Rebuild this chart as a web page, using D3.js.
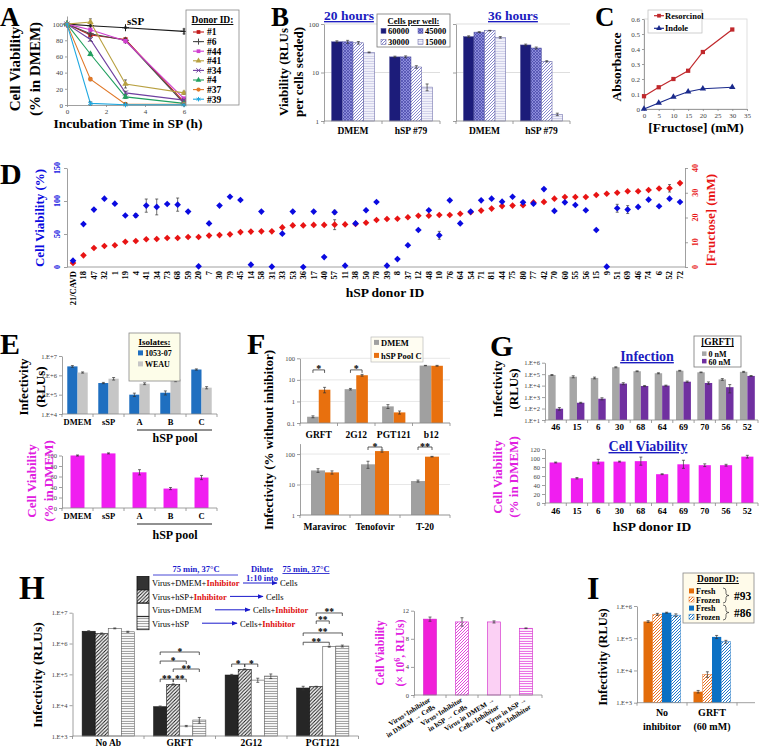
<!DOCTYPE html>
<html><head><meta charset="utf-8">
<script src="https://cdn.jsdelivr.net/npm/d3@7/dist/d3.min.js"></script>
<style>html,body{margin:0;padding:0;background:#fff}svg{display:block}</style>
</head><body>
<script>
// ================= DATA =================
// Panel A
const aTimes = [0, 1.2, 3, 6];
const aTicksX = [0, 2, 4, 6];
const aTicksY = [0, 20, 40, 60, 80, 100];
const aDonorIDs = ["#1", "#6", "#44", "#41", "#34", "#4", "#37", "#39"];
const aViab1 = [100, 86.5, 81, 4];
const aViab6 = [100, 88, 80, 2];
const aViab44 = [100, 93, 79, 8];
const aViab41 = [100, 102.5, 26, 15];
const aViab34 = [100, 81, 15, 6];
const aViab4 = [100, 63, 10, 2];
const aViab37 = [100, 32, 1, 1];
const aViab39 = [100, 2, 0.3, 0.3];
const aViabSSP = [100, 98, 95.5, 91];
const aErr = [0, 2, 2, 1];
const aErr41 = [0, 4, 5, 2];
const aErrSSP = [0, 1, 1, 3];

// Panel B
const bGroups = ["DMEM", "hSP #79"];
const bCells = ["60000", "45000", "30000", "15000"];
const bTicks = [1, 10, 100];
const bGrid = [10, 100];
const b20DMEM = [43, 43, 41, 26];
const b20DMEMErr = [2, 3, 2.5, 0.5];
const b20HSP = [21, 21, 13, 5];
const b20HSPErr = [0.7, 1, 0.8, 0.8];
const b36DMEM = [55, 68, 73, 53];
const b36DMEMErr = [2, 1.5, 1, 2];
const b36HSP = [37, 32, 17, 1.37];
const b36HSPErr = [1.5, 1.5, 0.5, 0.08];

// Panel C
const cFructose = [0, 5, 10, 15, 20, 30];
const cResorcinol = [0.085, 0.145, 0.2, 0.255, 0.38, 0.53];
const cIndole = [0, 0.04, 0.08, 0.115, 0.135, 0.145];
const cTicksX = [0, 5, 10, 15, 20, 25, 30, 35];
const cTicksY = [0, 0.1, 0.2, 0.3, 0.4, 0.5, 0.6];

// Panel D
const dDonors = ["21/CAVD","18","47","32","1","19","4","41","34","73","68","59","20","7","30","79","45","14","58","31","33","53","36","17","40","57","11","38","50","78","39","8","37","12","48","10","76","64","54","71","81","44","75","80","77","42","70","60","55","56","15","9","51","69","46","74","6","52","72"];
const dViability = [9.6,65,87,103.5,96,78,78,93,91,95.5,94.5,84,1,66,93,106.5,101.5,3.5,84,0.5,50.5,84,0,84,15,83,2,66,86,98.5,
  2,12,33,56,86,48,101,66,84,101,103.5,99,106.5,98,96,118,85,98,94,86,56,0.5,89,87,91,102,92,103.5,98.5];
const dViabErr = [1,2,2,2,2,2,3,10,12,2,10,2,1,2,2,2,2,1,2,1,2,2,1,2,2,3,1,2,2,2,
  1,1,2,2,2,6,2,2,2,2,2,2,2,2,2,2,2,2,2,2,2,1,6,6,2,2,2,2,2];
const dFructose = [1.6,4.7,7.7,8.5,8.8,10.2,10.5,11.2,11.3,11.7,11.7,12.1,12.1,12.7,12.9,13.2,14.1,14.3,14.4,14.4,16,16.8,16.8,17,17,17.1,17.2,17.4,17.9,19,
  19.4,19.5,20.1,20.7,20.7,21,21,21.5,22.1,22.8,23.6,24.6,24.8,25,26.1,26.3,27.6,28.3,28.3,28.3,29.1,29.6,30,30.6,30.6,31.1,31.7,31.8,33.9];
const dFructErr = [0.3,0.3,0.3,0.3,0.3,0.3,0.3,0.3,0.3,0.3,0.3,0.3,0.3,0.3,0.3,0.3,0.3,0.3,0.3,0.3,0.3,0.3,0.3,0.3,0.3,2,0.3,0.3,0.3,0.3,
  0.3,0.3,0.3,0.3,0.3,0.3,0.3,0.3,0.3,0.3,0.3,0.3,0.3,0.3,0.3,0.3,0.3,0.3,0.3,0.3,0.3,0.3,0.3,0.3,0.3,0.3,0.3,1.5,0.3];
const dTicksL = [0, 50, 100, 150];
const dTicksR = [0, 10, 20, 30, 40];

// Panel E
const eCats = ["DMEM", "sSP", "A", "B", "C"];
const eIsolates = ["1053-07", "WEAU"];
const e105307 = [2.9e6, 4e5, 1e5, 1.26e5, 2e6];
const e105307Err = [3e5, 3e4, 2e4, 3e4, 1.5e5];
const eWEAU = [1.4e6, 6.7e5, 3.7e5, 6.2e5, 2.3e5];
const eWEAUErr = [1e5, 1e5, 4e4, 1.5e5, 3e4];
const eLogTicks = [1e4, 1e5, 1e6, 1e7];
const eViability = [100, 104, 68, 37, 58];
const eViabErr = [1, 1, 5, 2, 4];
const eViabTicks = [0, 20, 40, 60, 80, 100];

// Panel F
const fTopCats = ["GRFT", "2G12", "PGT121", "b12"];
const fTopDMEM = [0.195, 3.7, 0.59, 46];
const fTopDMEMErr = [0.02, 0.3, 0.12, 1];
const fTopHSP = [3.5, 16.4, 0.31, 45];
const fTopHSPErr = [1, 1.5, 0.05, 2];
const fTopTicks = [0.1, 1, 10, 100];
const fBotCats = ["Maraviroc", "Tenofovir", "T-20"];
const fBotDMEM = [29, 46, 13];
const fBotDMEMErr = [4, 12, 1];
const fBotHSP = [25, 125, 82];
const fBotHSPErr = [3, 10, 2];
const fBotTicks = [1, 10, 100];
const fLegend = ["DMEM", "hSP Pool C"];

// Panel G
const gDonors = ["46", "15", "6", "30", "68", "64", "69", "70", "56", "52"];
const gGRFT0 = [8.5e4, 6e4, 4.7e4, 4e5, 1.8e5, 1.2e5, 2e5, 1.45e5, 3.5e4, 1.6e5];
const gGRFT0Err = [8e3, 1.2e4, 8e3, 4e4, 1.5e4, 1.2e4, 1.5e4, 1e4, 6e3, 1.5e4];
const gGRFT60 = [97, 320, 720, 1.5e4, 9.3e3, 1e4, 2.2e4, 1.7e4, 7.3e3, 7e4];
const gGRFT60Err = [25, 30, 150, 3e3, 1e3, 1e3, 3e3, 4e3, 5e3, 6e3];
const gLogTicks = [10, 100, 1e3, 1e4, 1e5, 1e6];
const gViability = [90, 55, 92, 92, 93, 64, 86, 84, 84, 103];
const gViabErr = [1, 1.5, 5, 1, 9, 1, 9, 3, 2, 3];
const gViabTicks = [0, 20, 40, 60, 80, 100, 120];
const gLegend = ["0 nM", "60 nM"];

// Panel H
const hCats = ["No Ab", "GRFT", "2G12", "PGT121"];
const hDMEMInh = [2.5e6, 8.9e3, 9.5e4, 3.6e4];
const hDMEMInhErr = [1e5, 5e2, 5e3, 5e3];
const hHSPInh = [2.1e6, 4.7e4, 1.45e5, 4e4];
const hHSPInhErr = [1e5, 2e3, 5e3, 1e3];
const hDMEMCells = [3.1e6, 2.1e3, 6.5e4, 7.9e5];
const hDMEMCellsErr = [1e5, 1e2, 1e4, 3e4];
const hHSPCells = [2.4e6, 3.3e3, 8.8e4, 8.3e5];
const hHSPCellsErr = [1e5, 7e2, 1.5e4, 6e4];
const hLogTicks = [1e3, 1e4, 1e5, 1e6, 1e7];
const hBrackets = [
  {cat: "GRFT", a: 0, b: 3, v: 5.3e5, label: "*"},
  {cat: "GRFT", a: 0, b: 2, v: 2.7e5, label: "*"},
  {cat: "GRFT", a: 1, b: 3, v: 1.49e5, label: "**"},
  {cat: "GRFT", a: 0, b: 1, v: 7e4, label: "**"},
  {cat: "GRFT", a: 1, b: 2, v: 7e4, label: "**"},
  {cat: "2G12", a: 0, b: 1, v: 2.16e5, label: "*"},
  {cat: "2G12", a: 1, b: 2, v: 2.16e5, label: "*"},
  {cat: "PGT121", a: 1, b: 3, v: 9.8e6, label: "**"},
  {cat: "PGT121", a: 1, b: 2, v: 5.4e6, label: "**"},
  {cat: "PGT121", a: 0, b: 3, v: 2.2e6, label: "**"},
  {cat: "PGT121", a: 0, b: 2, v: 1.1e6, label: "**"}
];
const hViability = [10.8, 10.4, 10.4, 9.5];
const hViabErr = [0.3, 0.6, 0.15, 0.05];
const hViabTicks = [0, 4, 8, 12];
const hViabLabels = [["Virus+Inhibitor", "in DMEM \u2192 Cells"], ["Virus+Inhibitor", "in hSP \u2192 Cells"], ["Virus in DMEM \u2192", "Cells+Inhibitor"], ["Virus in hSP \u2192", "Cells+Inhibitor"]];

// Panel I
const iCats = ["No inhibitor", "GRFT (60 mM)"];
const iCatLines = [["No", "inhibitor"], ["GRFT", "(60 mM)"]];
const iFresh93 = [3.3e5, 2.2e3];
const iFresh93Err = [2e4, 2e2];
const iFrozen93 = [5.5e5, 7.6e3];
const iFrozen93Err = [4e4, 1.5e3];
const iFresh86 = [6.2e5, 1.1e5];
const iFresh86Err = [2e4, 1.2e4];
const iFrozen86 = [5.2e5, 7.8e4];
const iFrozen86Err = [5e4, 8e3];
const iLogTicks = [1e3, 1e4, 1e5, 1e6];

// ================= HELPERS =================
const SERIF = "'Liberation Serif','Times New Roman',Times,serif";
const svg = d3.select("body").append("svg").attr("width", 760).attr("height", 748)
  .attr("font-family", SERIF).style("background", "#fff");
svg.append("rect").attr("width", 760).attr("height", 748).attr("fill", "#fff");
const defs = svg.append("defs");

function pat(id, bg, fg, kind, s, w) {
  const p = defs.append("pattern").attr("id", id).attr("patternUnits", "userSpaceOnUse").attr("width", s).attr("height", s);
  p.append("rect").attr("width", s).attr("height", s).attr("fill", bg);
  let d = "";
  if (kind === "diag" || kind === "cross") d += `M0,${s}L${s},0M${-s/2},${s/2}L${s/2},${-s/2}M${s/2},${s*1.5}L${s*1.5},${s/2}`;
  if (kind === "cross") d += `M0,0L${s},${s}M${-s/2},${s/2}L${s/2},${s*1.5}M${s/2},${-s/2}L${s*1.5},${s/2}`;
  if (kind === "horiz") d += `M0,${s/2}H${s}`;
  p.append("path").attr("d", d).attr("stroke", fg).attr("stroke-width", w).attr("fill", "none");
}
pat("pB45", "#8c8cdc", "#4848a8", "cross", 3, 0.7);
pat("pB30", "#ffffff", "#7c7cc8", "diag", 3, 0.9);
pat("pB15", "#f4f4fb", "#c0c0e2", "horiz", 2.5, 0.8);
pat("pHdiag", "#ffffff", "#111111", "diag", 3.5, 1);
pat("pHhor", "#ffffff", "#777777", "horiz", 2.5, 0.8);
pat("pMdiag", "#ffffff", "#e030d8", "diag", 3, 0.9);
pat("pMhor", "#ffffff", "#e030d8", "horiz", 2.5, 0.8);
pat("pOdiag", "#ffffff", "#e87020", "diag", 3, 1);
pat("pBdiag", "#ffffff", "#1f78c8", "diag", 3, 1);
defs.append("marker").attr("id", "arr").attr("viewBox", "0 0 10 10").attr("refX", 9).attr("refY", 5)
  .attr("markerWidth", 6).attr("markerHeight", 6).attr("orient", "auto")
  .append("path").attr("d", "M0,1L10,5L0,9z").attr("fill", "#1a1acc");

function T(x, y, s, o = {}) {
  const t = svg.append("text").attr("x", x).attr("y", y).text(s)
    .attr("font-size", o.size || 10).attr("font-weight", o.normal ? "normal" : "bold")
    .attr("fill", o.fill || "#000").attr("text-anchor", o.anchor || "start");
  if (o.rot !== undefined) t.attr("transform", `rotate(${o.rot},${x},${y})`);
  if (o.u) t.attr("text-decoration", "underline");
  return t;
}
function rotLabel(cx, cy, s, size, fill) {
  return T(cx + size * 0.33, cy, s, {size, rot: -90, anchor: "middle", fill});
}
function styleAxis(g, o = {}) {
  g.select(".domain").attr("stroke", o.line || "#888").attr("stroke-width", 0.8);
  g.selectAll(".tick line").attr("stroke", o.line || "#888").attr("stroke-width", 0.8);
  g.selectAll(".tick text").attr("font-family", SERIF).attr("font-size", o.size || 7)
    .attr("fill", o.fill || "#444").attr("font-weight", o.bold ? "bold" : "normal");
  return g;
}
function yAxisAt(x, scale, ticks, fmt, o = {}) {
  const g = svg.append("g").attr("transform", `translate(${x},0)`)
    .call(d3.axisLeft(scale).tickValues(ticks).tickFormat(fmt).tickSize(o.tick || 3).tickSizeOuter(0).tickPadding(2));
  return styleAxis(g, o);
}
const logFmt = d => "1.E+" + Math.round(Math.log10(d));
function catAxis(x0, y0, labels, o = {}) {
  const g = svg.append("g");
  const [r0, r1] = x0.range();
  g.append("line").attr("x1", r0).attr("x2", o.end || r1).attr("y1", y0).attr("y2", y0).attr("stroke", "#888").attr("stroke-width", 0.8);
  const bounds = x0.domain().map(d => x0(d)).concat([r1]);
  g.selectAll("line.t").data(bounds).join("line").attr("class", "t")
    .attr("x1", d => d).attr("x2", d => d).attr("y1", y0).attr("y2", y0 + 3).attr("stroke", "#888").attr("stroke-width", 0.8);
  if (labels) g.selectAll("text").data(x0.domain()).join("text")
    .attr("x", d => x0(d) + x0.bandwidth() / 2).attr("y", y0 + o.dy).attr("text-anchor", "middle")
    .attr("font-size", o.size || 10).attr("font-weight", "bold").text((d, i) => labels[i]);
  return g;
}
function errBar(g, x, y1, y2, cap) {
  g.append("path").attr("d", `M${x-cap},${y1}H${x+cap}M${x},${y1}V${y2}M${x-cap},${y2}H${x+cap}`)
    .attr("stroke", "#333").attr("stroke-width", 0.7).attr("fill", "none");
}
function groupBars(x0, y, cats, series, inner) {
  const base = y.range()[0];
  const bw = x0.bandwidth() * inner / series.length;
  const g = svg.append("g");
  const cx = (si, i) => x0(cats[i]) + x0.bandwidth() * (1 - inner) / 2 + si * bw + bw / 2;
  series.forEach((s, si) => {
    g.append("g").selectAll("rect").data(s.vals).join("rect")
      .attr("x", (d, i) => cx(si, i) - bw / 2).attr("width", bw)
      .attr("y", d => y(d)).attr("height", d => Math.max(0, base - y(d)))
      .attr("fill", s.fill).attr("stroke", s.stroke || "none").attr("stroke-width", s.sw || 0.6);
  });
  series.forEach((s, si) => {
    if (!s.errs) return;
    s.vals.forEach((v, i) => {
      const e = s.errs[i]; if (!e) return;
      const lo = Math.max(v - e, y.domain()[0]);
      errBar(g, cx(si, i), y(v + e), y(lo), 1.5);
    });
  });
  return {bw, cx};
}
function bracket(x1, x2, yv, label, size) {
  svg.append("path").attr("d", `M${x1},${yv+3}V${yv}H${x2}V${yv+3}`).attr("fill", "none").attr("stroke", "#333").attr("stroke-width", 0.8);
  T((x1 + x2) / 2, yv + 2.5, label, {size: size || 10, anchor: "middle"});
}
function legSq(x, y, fill, label, o = {}) {
  svg.append("rect").attr("x", x).attr("y", y - 2.6).attr("width", o.w || 5).attr("height", o.w || 5)
    .attr("fill", fill).attr("stroke", o.stroke || "none").attr("stroke-width", 0.5);
  T(x + (o.w || 5) + 2, y + 3, label, {size: o.size || 8.5});
}

// ================= PANEL A =================
T(0, 26, "A", {size: 27});
const xA = d3.scaleLinear([0, 6], [67, 184]);
const yA = d3.scaleLinear([0, 110], [105, 16]);
styleAxis(svg.append("g").attr("transform", "translate(0,105)")
  .call(d3.axisBottom(xA).tickValues(aTicksX).tickFormat(d3.format("d")).tickSize(2).tickSizeOuter(0).tickPadding(2)));
yAxisAt(67, yA, aTicksY, d3.format("d"), {tick: 2});
const aSeries = [
  {vals: aViabSSP, errs: aErrSSP, color: "#1a1a1a", sym: d3.symbolPlus, stroked: true},
  {vals: aViab1, errs: aErr, color: "#c41a1a", sym: d3.symbolSquare},
  {vals: aViab6, errs: aErr, color: "#4a4a4a", sym: d3.symbolPlus, stroked: true},
  {vals: aViab44, errs: aErr, color: "#d040d0", sym: d3.symbolSquare},
  {vals: aViab41, errs: aErr41, color: "#b8a040", sym: d3.symbolTriangle},
  {vals: aViab34, errs: aErr, color: "#7040a0", sym: d3.symbolTimes, stroked: true},
  {vals: aViab4, errs: aErr, color: "#22a060", sym: d3.symbolTriangle},
  {vals: aViab37, errs: aErr, color: "#e07828", sym: d3.symbolCircle},
  {vals: aViab39, errs: aErr, color: "#20a8e0", sym: d3.symbolAsterisk, stroked: true}
];
function symPath(g, x, y, s, size) {
  g.append("path").attr("transform", `translate(${x},${y})`).attr("d", d3.symbol(s.sym, size)())
    .attr("fill", s.stroked ? "none" : s.color).attr("stroke", s.stroked ? s.color : "none").attr("stroke-width", 1);
}
aSeries.forEach(s => {
  const g = svg.append("g");
  g.append("path").datum(s.vals).attr("d", d3.line().x((d, i) => xA(aTimes[i])).y(d => yA(d)))
    .attr("fill", "none").attr("stroke", s.color).attr("stroke-width", 1.1);
  s.vals.forEach((v, i) => { if (s.errs[i]) errBar(g, xA(aTimes[i]), yA(v + s.errs[i]), yA(Math.max(0, v - s.errs[i])), 1.5); });
  s.vals.forEach((v, i) => symPath(g, xA(aTimes[i]), yA(v), s, 18));
});
T(127, 25, "sSP", {size: 11});
rotLabel(15, 69, "Cell Viability", 15);
rotLabel(35, 69, "(% in DMEM)", 15);
T(128, 128, "Incubation Time in SP (h)", {size: 13.5, anchor: "middle"});
svg.append("rect").attr("x", 186).attr("y", 10).attr("width", 53).attr("height", 95).attr("fill", "#fff").attr("stroke", "#888").attr("stroke-width", 0.8);
T(212.5, 23, "Donor ID:", {size: 9.5, anchor: "middle", u: true});
aDonorIDs.forEach((id, i) => {
  const s = aSeries[i + 1];
  const yy = 32 + i * 9.6;
  const g = svg.append("g");
  g.append("line").attr("x1", 193).attr("x2", 204).attr("y1", yy).attr("y2", yy).attr("stroke", s.color).attr("stroke-width", 1.1);
  symPath(g, 198.5, yy, s, 14);
  T(207, yy + 3.3, id, {size: 9.5});
});

// ================= PANEL B =================
T(271, 26, "B", {size: 27});
const bFills = ["#1c1c7a", "url(#pB45)", "url(#pB30)", "url(#pB15)"];
function drawB(range, dmem, hsp, dmemErr, hspErr, labels) {
  const x0 = d3.scaleBand(bGroups, range);
  const y = d3.scaleLog([1, 100], [121, 24]);
  svg.append("g").selectAll("line").data(bGrid).join("line")
    .attr("x1", range[0]).attr("x2", range[1]).attr("y1", d => y(d)).attr("y2", d => y(d))
    .attr("stroke", "#d0d0d0").attr("stroke-width", 0.7);
  const series = bCells.map((c, ci) => ({vals: [dmem[ci], hsp[ci]], errs: [dmemErr[ci], hspErr[ci]], fill: bFills[ci], stroke: "#5a5aa0", sw: 0.5}));
  groupBars(x0, y, bGroups, series, 0.74);
  yAxisAt(range[0], y, bTicks, labels ? d3.format("d") : "", {});
  catAxis(x0, 121, bGroups, {dy: 13, size: 9.5});
}
drawB([324, 440], b20DMEM, b20HSP, b20DMEMErr, b20HSPErr, true);
drawB([456, 570], b36DMEM, b36HSP, b36DMEMErr, b36HSPErr, false);
T(324, 20, "20 hours", {size: 13.5, fill: "#1c1cc0", u: true});
T(488, 20, "36 hours", {size: 13.5, fill: "#1c1cc0", u: true});
rotLabel(283.5, 72, "Viability (RLUs", 13);
rotLabel(298.5, 72, "per cells seeded)", 13);
svg.append("rect").attr("x", 377).attr("y", 14).attr("width", 73).attr("height", 33).attr("fill", "#fff").attr("stroke", "#777").attr("stroke-width", 0.8);
T(413.5, 24, "Cells per well:", {size: 8.5, anchor: "middle", u: true});
bCells.forEach((c, i) => legSq(381 + (i % 2) * 37, 31 + Math.floor(i / 2) * 11, bFills[i], c, {size: 8.5, stroke: "#5a5aa0"}));

// ================= PANEL C =================
T(595, 26, "C", {size: 27});
const xC = d3.scaleLinear([0, 35], [644, 747]);
const yC = d3.scaleLinear([0, 0.6], [109, 19]);
svg.append("rect").attr("x", 644).attr("y", 19).attr("width", 103).attr("height", 90).attr("fill", "none").attr("stroke", "#d8d8d8").attr("stroke-width", 0.8);
styleAxis(svg.append("g").attr("transform", "translate(0,109)")
  .call(d3.axisBottom(xC).tickValues(cTicksX).tickFormat(d3.format("d")).tickSize(2).tickSizeOuter(0).tickPadding(2)));
yAxisAt(644, yC, cTicksY, d => d === 0 ? "0" : d3.format(".1f")(d), {tick: 2});
const cSeries = [
  {vals: cResorcinol, color: "#c0282c", sym: d3.symbolSquare, name: "Resorcinol"},
  {vals: cIndole, color: "#1a2a8c", sym: d3.symbolTriangle, name: "Indole"}
];
cSeries.forEach(s => {
  const g = svg.append("g");
  g.append("path").datum(s.vals).attr("d", d3.line().x((d, i) => xC(cFructose[i])).y(d => yC(d)))
    .attr("fill", "none").attr("stroke", s.color).attr("stroke-width", 1.2);
  s.vals.forEach((v, i) => symPath(g, xC(cFructose[i]), yC(v), s, 18));
});
svg.append("rect").attr("x", 648).attr("y", 10).attr("width", 54).attr("height", 23).attr("fill", "#fff").attr("stroke", "#bbb").attr("stroke-width", 0.7);
cSeries.forEach((s, i) => {
  const yy = 15.7 + i * 12.6;
  const g = svg.append("g");
  g.append("line").attr("x1", 654).attr("x2", 664).attr("y1", yy).attr("y2", yy).attr("stroke", s.color).attr("stroke-width", 1.2);
  symPath(g, 659, yy, s, 14);
  T(665, yy + 3, s.name, {size: 8.5});
});
rotLabel(617, 67, "Absorbance", 13.5);
T(696, 132, "[Fructose] (mM)", {size: 13.5, anchor: "middle"});

// ================= PANEL D =================
T(0, 184, "D", {size: 30});
const xD = d3.scalePoint(dDonors, [73, 680]);
const yDL = d3.scaleLinear([0, 150], [267, 168]);
const yDR = d3.scaleLinear([0, 40], [267, 168]);
const DBLUE = "#0a0ae0", DRED = "#e81414";
yAxisAt(67, yDL, dTicksL, "", {});
styleAxis(svg.append("g").attr("transform", "translate(685,0)")
  .call(d3.axisRight(yDR).tickValues(dTicksR).tickFormat("").tickSize(3).tickSizeOuter(0)));
svg.append("line").attr("x1", 67).attr("x2", 685).attr("y1", 267).attr("y2", 267).attr("stroke", "#888").attr("stroke-width", 0.8);
dTicksL.forEach(v => T(57 + 2.6, yDL(v), String(v), {size: 8, rot: -90, anchor: "middle", fill: DBLUE}));
dTicksR.forEach(v => T(695 + 2.6, yDR(v), String(v), {size: 8, rot: -90, anchor: "middle", fill: DRED}));
svg.append("g").selectAll("text").data(dDonors).join("text")
  .attr("transform", d => `translate(${xD(d)},271) rotate(-90)`).attr("dy", "0.33em")
  .attr("text-anchor", "end").attr("font-size", 8.5).attr("font-weight", "bold").text(d => d);
const gD = svg.append("g");
dDonors.forEach((d, i) => {
  if (dViabErr[i] > 2) errBar(gD, xD(d), yDL(dViability[i] + dViabErr[i]), yDL(Math.max(0, dViability[i] - dViabErr[i])), 1.5);
  if (dFructErr[i] > 1) errBar(gD, xD(d), yDR(dFructose[i] + dFructErr[i]), yDR(dFructose[i] - dFructErr[i]), 1.5);
});
const diamond = d3.symbol(d3.symbolSquare, 22);
gD.selectAll("path.r").data(dFructose).join("path").attr("class", "r")
  .attr("transform", (v, i) => `translate(${xD(dDonors[i])},${yDR(v)}) rotate(45)`).attr("d", diamond).attr("fill", DRED);
gD.selectAll("path.b").data(dViability).join("path").attr("class", "b")
  .attr("transform", (v, i) => `translate(${xD(dDonors[i])},${yDL(v)}) rotate(45)`).attr("d", diamond).attr("fill", DBLUE);
rotLabel(40, 218, "Cell Viability (%)", 13, DBLUE);
rotLabel(711, 220, "[Fructose]  (mM)", 13, DRED);
T(385, 297, "hSP donor ID", {size: 13.5, anchor: "middle"});

// ================= PANEL E =================
T(0, 354, "E", {size: 30});
const xE = d3.scaleBand(eCats, [62, 217]);
const yE = d3.scaleLog([1e4, 1e7], [414, 356]);
const E_BLUE = "#1f6fc0", E_GRAY = "#c6c6c6";
groupBars(xE, yE, eCats, [
  {vals: e105307, errs: e105307Err, fill: E_BLUE},
  {vals: eWEAU, errs: eWEAUErr, fill: E_GRAY}
], 0.66);
yAxisAt(62, yE, eLogTicks, logFmt, {size: 6.5});
catAxis(xE, 414, eCats, {dy: 11, size: 8.5});
svg.append("line").attr("x1", 137).attr("x2", 212).attr("y1", 430).attr("y2", 430).attr("stroke", "#222").attr("stroke-width", 1);
T(175, 442, "hSP pool", {size: 12, anchor: "middle"});
rotLabel(24, 387, "Infectivity", 13);
rotLabel(41, 387, "(RLUs)", 13);
svg.append("rect").attr("x", 129).attr("y", 333).attr("width", 51).attr("height", 48).attr("fill", "#fdfde9").attr("stroke", "#888").attr("stroke-width", 0.8);
T(154.5, 345, "Isolates:", {size: 9, anchor: "middle", u: true});
legSq(138, 353, E_BLUE, eIsolates[0], {size: 8});
legSq(138, 364, E_GRAY, eIsolates[1], {size: 8});
// E bottom
const yEv = d3.scaleLinear([0, 100], [508, 455.5]);
const E_MAG = "#f01ef0";
groupBars(xE, yEv, eCats, [{vals: eViability, errs: eViabErr, fill: E_MAG}], 0.45);
yAxisAt(62, yEv, eViabTicks, d3.format("d"), {size: 6.5});
catAxis(xE, 508, eCats, {dy: 11, size: 8.5});
svg.append("line").attr("x1", 137).attr("x2", 212).attr("y1", 524).attr("y2", 524).attr("stroke", "#222").attr("stroke-width", 1);
T(175, 539, "hSP pool", {size: 12, anchor: "middle"});
rotLabel(32, 481, "Cell Viability", 13, "#e020e0");
rotLabel(49, 481, "(% in DMEM)", 13, "#e020e0");

// ================= PANEL F =================
T(247, 354, "F", {size: 30});
const F_GRAY = "#a0a0a0", F_OR = "#e8700e";
const xFt = d3.scaleBand(fTopCats, [300, 450]);
const yFt = d3.scaleLog([0.1, 100], [423, 358.3]);
svg.append("g").selectAll("line").data(fTopTicks).join("line")
  .attr("x1", 300).attr("x2", 450).attr("y1", d => yFt(d)).attr("y2", d => yFt(d)).attr("stroke", "#dcdcdc").attr("stroke-width", 0.7);
const fbt = groupBars(xFt, yFt, fTopCats, [
  {vals: fTopDMEM, errs: fTopDMEMErr, fill: F_GRAY},
  {vals: fTopHSP, errs: fTopHSPErr, fill: F_OR}
], 0.62);
yAxisAt(300, yFt, fTopTicks, d => d < 1 ? "0.1" : d3.format("d")(d), {size: 6.5});
catAxis(xFt, 423, fTopCats, {dy: 15, size: 9.5});
[0, 1].forEach(i => bracket(fbt.cx(0, i), fbt.cx(1, i), yFt(29), "*", 10));
const xFb = d3.scaleBand(fBotCats, [300, 450]);
const yFb = d3.scaleLog([1, 220], [515, 443.6]);
svg.append("g").selectAll("line").data(fBotTicks).join("line")
  .attr("x1", 300).attr("x2", 450).attr("y1", d => yFb(d)).attr("y2", d => yFb(d)).attr("stroke", "#dcdcdc").attr("stroke-width", 0.7);
const fbb = groupBars(xFb, yFb, fBotCats, [
  {vals: fBotDMEM, errs: fBotDMEMErr, fill: F_GRAY},
  {vals: fBotHSP, errs: fBotHSPErr, fill: F_OR}
], 0.56);
yAxisAt(300, yFb, fBotTicks, d3.format("d"), {size: 6.5});
catAxis(xFb, 515, fBotCats, {dy: 15, size: 9.5});
bracket(fbb.cx(0, 1), fbb.cx(1, 1), yFb(170), "*", 10);
bracket(fbb.cx(0, 2), fbb.cx(1, 2), yFb(170), "**", 10);
rotLabel(269, 440, "Infectivity (% without inhibitor)", 13);
svg.append("rect").attr("x", 371).attr("y", 337).attr("width", 52).attr("height", 25).attr("fill", "#fffdf2").attr("stroke", "#bbb").attr("stroke-width", 0.7);
legSq(374, 342.5, F_GRAY, fLegend[0], {size: 8.5});
legSq(374, 355.5, F_OR, fLegend[1], {size: 8.5});

// ================= PANEL G =================
T(490, 356, "G", {size: 30});
const G_GRAY = "#a6a6a6", G_PUR = "#7030a0";
const xG = d3.scaleBand(gDonors, [545, 758]);
const yG = d3.scaleLog([10, 1e6], [420, 362.7]);
groupBars(xG, yG, gDonors, [
  {vals: gGRFT0, errs: gGRFT0Err, fill: G_GRAY},
  {vals: gGRFT60, errs: gGRFT60Err, fill: G_PUR}
], 0.7);
yAxisAt(545, yG, gLogTicks, logFmt, {size: 6.5});
catAxis(xG, 420, gDonors, {dy: 10, size: 9});
T(647, 361, "Infection", {size: 14, anchor: "middle", fill: "#1c1cc0", u: true});
svg.append("rect").attr("x", 694).attr("y", 336).attr("width", 47).attr("height", 31).attr("fill", "#fff").attr("stroke", "#777").attr("stroke-width", 0.8);
T(717.5, 345, "[GRFT]", {size: 9.5, anchor: "middle", u: true});
legSq(702, 354, G_GRAY, gLegend[0], {size: 8, w: 4.5});
legSq(702, 361.5, G_PUR, gLegend[1], {size: 8, w: 4.5});
rotLabel(498, 389, "Infectivity", 13);
rotLabel(514, 389, "(RLUs)", 13);
const yGv = d3.scaleLinear([0, 120], [503, 449]);
groupBars(xG, yGv, gDonors, [{vals: gViability, errs: gViabErr, fill: E_MAG}], 0.57);
yAxisAt(545, yGv, gViabTicks, d3.format("d"), {size: 6.5});
catAxis(xG, 503, gDonors, {dy: 10.5, size: 9});
T(648, 451, "Cell Viability", {size: 14, anchor: "middle", fill: "#1c1cc0", u: true});
T(652, 531, "hSP donor ID", {size: 13.5, anchor: "middle"});
rotLabel(498, 477, "Cell Viability", 13, "#e020e0");
rotLabel(514, 477, "(% in DMEM)", 13, "#e020e0");

// ================= PANEL H =================
T(19, 599, "H", {size: 33});
const xH = d3.scaleBand(hCats, [72.5, 358.5]);
const yH = d3.scaleLog([1e3, 1e7], [736, 612.7]);
const hb = groupBars(xH, yH, hCats, [
  {vals: hDMEMInh, errs: hDMEMInhErr, fill: "#262626", stroke: "#111"},
  {vals: hHSPInh, errs: hHSPInhErr, fill: "url(#pHdiag)", stroke: "#111"},
  {vals: hDMEMCells, errs: hDMEMCellsErr, fill: "#fff", stroke: "#555"},
  {vals: hHSPCells, errs: hHSPCellsErr, fill: "url(#pHhor)", stroke: "#666"}
], 0.73);
yAxisAt(72.5, yH, hLogTicks, logFmt, {size: 6.5});
catAxis(xH, 736, hCats, {dy: 10, size: 9.5});
hBrackets.forEach(b => {
  const ci = hCats.indexOf(b.cat);
  bracket(hb.cx(b.a, ci), hb.cx(b.b, ci), yH(b.v), b.label, 9.5);
});
rotLabel(38, 675, "Infectivity (RLUs)", 13.5);
// legend
const hLegFills = ["#333", "url(#pHdiag)", "#fff", "url(#pHhor)"];
const hLegRows = [
  {pre: "Virus+DMEM+", red: "Inhibitor", a1: 243, a2: 277, post: "Cells", postRed: ""},
  {pre: "Virus+hSP+", red: "Inhibitor", a1: 230, a2: 263, post: "Cells", postRed: ""},
  {pre: "Virus+DMEM", red: "", a1: 215, a2: 250, post: "Cells+", postRed: "Inhibitor"},
  {pre: "Virus+hSP", red: "", a1: 202, a2: 237, post: "Cells+", postRed: "Inhibitor"}
];
hLegRows.forEach((r, i) => {
  const yy = 583 + i * 13.4;
  svg.append("rect").attr("x", 137).attr("y", yy - 6.5).attr("width", 12).attr("height", 13)
    .attr("fill", hLegFills[i]).attr("stroke", "#111").attr("stroke-width", 0.8);
  const t = svg.append("text").attr("x", 152).attr("y", yy + 3.3).attr("font-size", 8.5);
  t.append("tspan").text(r.pre);
  if (r.red) t.append("tspan").attr("fill", "#e01010").attr("font-weight", "bold").text(r.red);
  svg.append("line").attr("x1", r.a1).attr("x2", r.a2).attr("y1", yy).attr("y2", yy)
    .attr("stroke", "#1a1acc").attr("stroke-width", 1).attr("marker-end", "url(#arr)");
  const t2 = svg.append("text").attr("x", r.a2 + 3).attr("y", yy + 3.3).attr("font-size", 8.5);
  t2.append("tspan").text(r.post);
  if (r.postRed) t2.append("tspan").attr("fill", "#e01010").attr("font-weight", "bold").text(r.postRed);
});
T(196, 572, "75 min, 37\u00b0C", {size: 8.5, anchor: "middle", fill: "#1a1acc"});
svg.append("line").attr("x1", 153).attr("x2", 238).attr("y1", 575).attr("y2", 575).attr("stroke", "#1a1acc").attr("stroke-width", 0.8);
T(262, 572, "Dilute", {size: 8.5, anchor: "middle", fill: "#1a1acc"});
T(262, 580.5, "1:10 into", {size: 8.5, anchor: "middle", fill: "#1a1acc"});
T(306, 572, "75 min, 37\u00b0C", {size: 8.5, anchor: "middle", fill: "#1a1acc", u: true});
// H viability
const xHv = d3.scaleBand(d3.range(hViability.length), [414, 542]);
const yHv = d3.scaleLinear([0, 12], [695, 610.7]);
const hvFills = ["#f020d8", "url(#pMdiag)", "#fbd0f4", "url(#pMhor)"];
const hvG = svg.append("g");
hViability.forEach((v, i) => {
  const cx = xHv(i) + xHv.bandwidth() / 2, bw = 13;
  hvG.append("rect").attr("x", cx - bw / 2).attr("width", bw).attr("y", yHv(v)).attr("height", 695 - yHv(v))
    .attr("fill", hvFills[i]).attr("stroke", "#d020c8").attr("stroke-width", 0.6);
  errBar(hvG, cx, yHv(v + hViabErr[i]), yHv(v - hViabErr[i]), 1.5);
  const t = svg.append("text").attr("transform", `translate(${cx + 1},701) rotate(-32)`).attr("text-anchor", "end")
    .attr("font-size", 7).attr("font-weight", "bold");
  t.append("tspan").attr("x", 0).attr("y", 0).text(hViabLabels[i][0]);
  t.append("tspan").attr("x", 0).attr("y", 8.5).text(hViabLabels[i][1]);
});
yAxisAt(414, yHv, hViabTicks, d3.format("d"), {size: 6.5});
catAxis(xHv, 695, null, {});
{
  const t = svg.append("text").attr("transform", "rotate(-90) translate(-653,404)").attr("text-anchor", "middle")
    .attr("font-size", 11.5).attr("font-weight", "bold").attr("fill", "#e020e0");
  t.append("tspan").text("(\u00d7 10");
  t.append("tspan").attr("dy", -4).attr("font-size", 8).text("6");
  t.append("tspan").attr("dy", 4).text(", RLUs)");
}
rotLabel(380, 653, "Cell Viability", 11.5, "#e020e0");

// ================= PANEL I =================
T(587, 599, "I", {size: 32});
const I_OR = "#e36c0a", I_BL = "#0a70c4";
const xI = d3.scaleBand(iCats, [637, 737]);
const yI = d3.scaleLog([1e3, 1e6], [702.7, 606]);
groupBars(xI, yI, iCats, [
  {vals: iFresh93, errs: iFresh93Err, fill: I_OR},
  {vals: iFrozen93, errs: iFrozen93Err, fill: "url(#pOdiag)", stroke: "#e87020", sw: 0.5},
  {vals: iFresh86, errs: iFresh86Err, fill: I_BL},
  {vals: iFrozen86, errs: iFrozen86Err, fill: "url(#pBdiag)", stroke: "#1f78c8", sw: 0.5}
], 0.74);
yAxisAt(637, yI, iLogTicks, logFmt, {size: 6.5});
catAxis(xI, 702.7, null, {end: 755});
iCatLines.forEach((ls, i) => {
  const cx = xI(iCats[i]) + xI.bandwidth() / 2;
  T(cx, 716, ls[0], {size: 10, anchor: "middle"});
  T(cx, 730, ls[1], {size: 10, anchor: "middle"});
});
rotLabel(603, 657, "Infectivity (RLUs)", 12.5);
svg.append("rect").attr("x", 683).attr("y", 573).attr("width", 71).attr("height", 50).attr("fill", "#fffbea").attr("stroke", "#888").attr("stroke-width", 0.8);
T(718, 582, "Donor ID:", {size: 9.5, anchor: "middle", u: true});
const iLeg = [["Fresh", I_OR], ["Frozen", "url(#pOdiag)"], ["Fresh", I_BL], ["Frozen", "url(#pBdiag)"]];
iLeg.forEach((l, i) => legSq(689, 591 + i * 8.6, l[1], l[0], {size: 8, stroke: i % 2 ? (i === 1 ? "#e87020" : "#1f78c8") : "none"}));
function brace(x, y1, y2) {
  const m = (y1 + y2) / 2;
  svg.append("path").attr("d", `M${x},${y1} q3,0 3,3 V${m - 2} q0,2 3,2 q-3,0 -3,2 V${y2 - 3} q0,3 -3,3`)
    .attr("fill", "none").attr("stroke", "#333").attr("stroke-width", 0.7);
}
brace(723, 588, 603);
brace(723, 605, 620);
T(734, 600, "#93", {size: 11.5});
T(734, 617, "#86", {size: 11.5});
</script>
</body></html>
